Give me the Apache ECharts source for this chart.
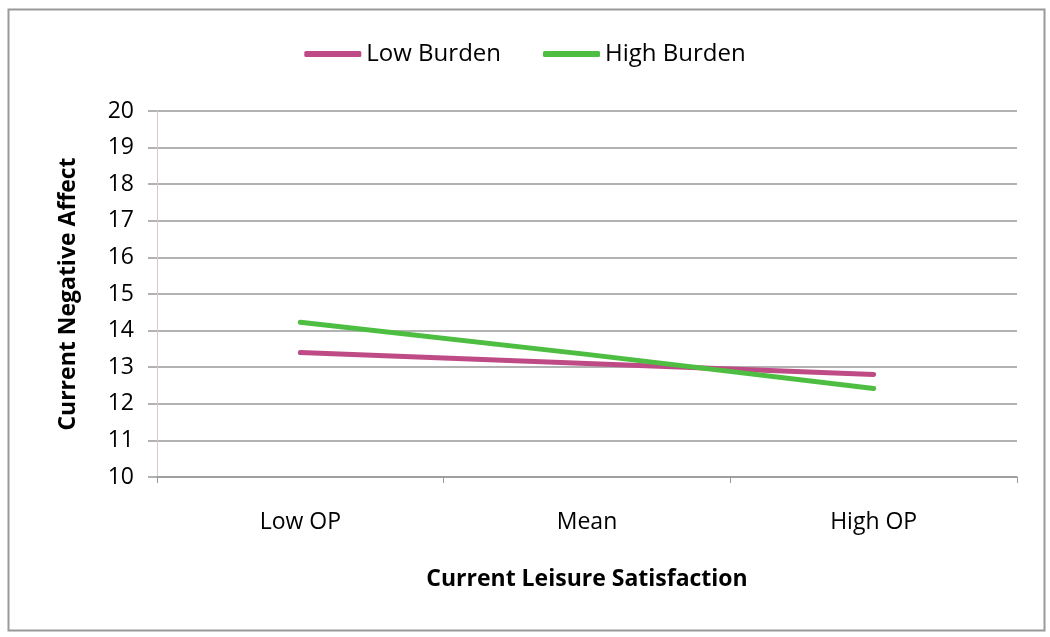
<!DOCTYPE html>
<html>
<head>
<meta charset="utf-8">
<script src="https://cdn.jsdelivr.net/npm/echarts@6/dist/echarts.min.js"></script>
<style>html,body{margin:0;padding:0;background:#fff}#c{width:1050px;height:637px}</style>
</head>
<body>
<div id="c"></div>
<script>
const categories = ['Low OP', 'Mean', 'High OP'];
const lowBurden = [13.4, 13.1, 12.8];
const highBurden = [14.23, 13.35, 12.42];
const yMin = 10, yMax = 20, yInterval = 1;
const xAxisTitle = 'Current Leisure Satisfaction';
const yAxisTitle = 'Current Negative Affect';
const seriesNames = ['Low Burden', 'High Burden'];

const FONT = '"Open Sans", Lato, sans-serif';
const chart = echarts.init(document.getElementById('c'), null, {renderer: 'canvas'});
chart.setOption({
  backgroundColor: '#fff',
  animation: false,
  graphic: [{
    type: 'rect', shape: {x: 8.5, y: 9.5, width: 1036, height: 621},
    style: {fill: 'none', stroke: '#9a9a9a', lineWidth: 2}, silent: true, z: -1
  }],
  legend: {
    top: 37, left: 'center',
    itemWidth: 57, itemHeight: 6, itemGap: 42,
    icon: 'roundRect',
    textStyle: {fontFamily: FONT, fontSize: 24, color: '#000'},
    data: seriesNames
  },
  grid: {left: 157, right: 33, top: 111, bottom: 160, containLabel: false},
  xAxis: {
    type: 'category', data: categories, boundaryGap: true,
    name: xAxisTitle, nameLocation: 'middle', nameGap: 91,
    nameTextStyle: {fontFamily: FONT, fontSize: 23, fontWeight: 'bold', color: '#000'},
    axisLine: {lineStyle: {color: '#999', width: 1.5}},
    axisTick: {show: true, alignWithLabel: false, length: 6, lineStyle: {color: '#999'}},
    axisLabel: {fontFamily: FONT, fontSize: 23, color: '#000', margin: 34},
    splitLine: {show: false}
  },
  yAxis: {
    type: 'value', min: yMin, max: yMax, interval: yInterval,
    name: yAxisTitle, nameLocation: 'middle', nameGap: 77, nameRotate: 90,
    nameTextStyle: {fontFamily: FONT, fontSize: 23, fontWeight: 'bold', color: '#000'},
    axisLine: {show: true, lineStyle: {color: '#d8c8c8', width: 1}},
    axisTick: {show: true, length: 9, lineStyle: {color: '#999', width: 1.5}},
    axisLabel: {fontFamily: FONT, fontSize: 23, color: '#000', margin: 23},
    splitLine: {lineStyle: {color: '#999', width: 1.5}}
  },
  series: [
    {name: seriesNames[0], type: 'line', data: lowBurden, symbol: 'none',
     lineStyle: {color: '#BE4B85', width: 5, cap: 'round'}, itemStyle: {color: '#BE4B85'}},
    {name: seriesNames[1], type: 'line', data: highBurden, symbol: 'none',
     lineStyle: {color: '#4DBE41', width: 5, cap: 'round'}, itemStyle: {color: '#4DBE41'}}
  ]
});
</script>
</body>
</html>
